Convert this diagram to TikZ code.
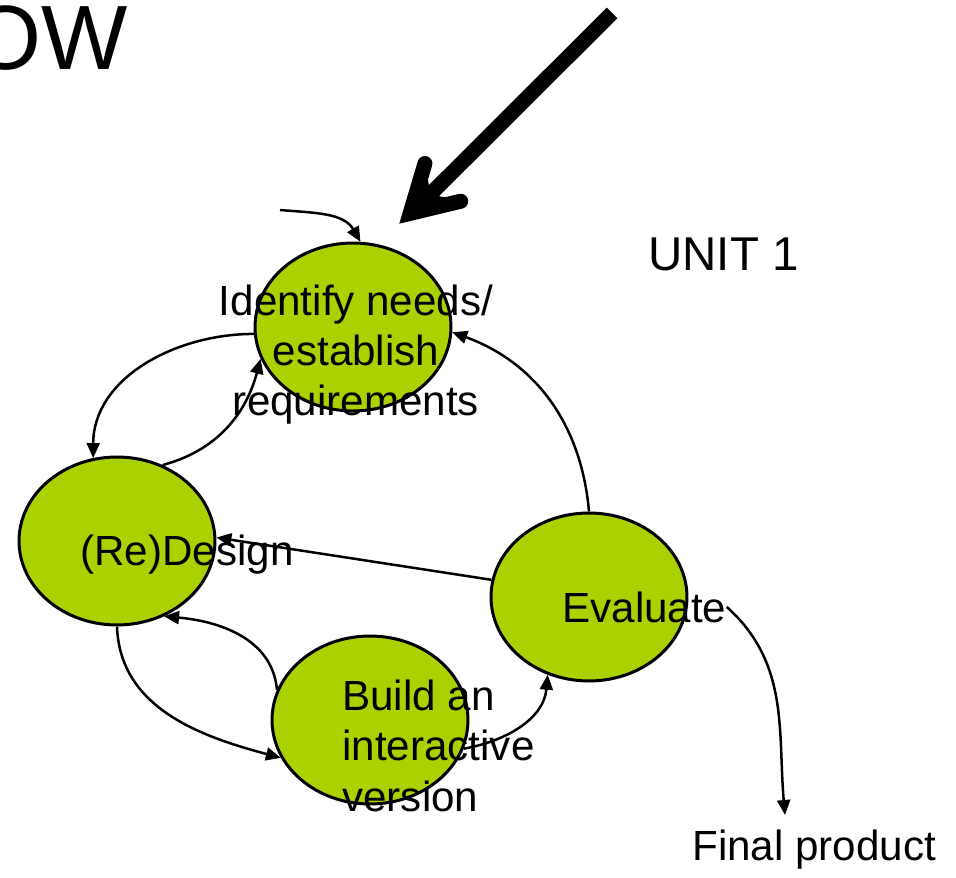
\documentclass[tikz,border=0pt]{standalone}
\usepackage{fontspec}
\setmainfont{Liberation Sans}
\usepackage{xcolor}
\usepackage{tikz}
\usetikzlibrary{shapes,arrows,positioning,calc,arrows.meta}
\definecolor{stagegreen}{RGB}{170,210,0}

\begin{document}
\begin{tikzpicture}[x=0.02cm, y=0.02cm,
    stage/.style={ellipse, draw, line width=0.06cm, fill=stagegreen,
        minimum width=3.92cm, minimum height=3.36cm, inner sep=0pt},
    lbl/.style={inner sep=0pt, font=\fontsize{24}{28.5}\selectfont},
    flow/.style={line width=0.05cm, -{Triangle[length=0.3cm, width=0.26cm]}}]
    \useasboundingbox (0,0) rectangle (956,877);
    \clip (0,0) rectangle (956,877);

    % Title (cut off)
    \node[inner sep=0pt, anchor=base east, font=\fontsize{52}{60}\selectfont] (title) at (128,807) {OW};

    % Stages
    \node[stage] (needs) at (353,550) {};
    \node[stage] (design) at (117,336) {};
    \node[stage] (build) at (370,157) {};
    \node[stage] (evaluate) at (589,280) {};

    % Free ends
    \coordinate (entry) at (280,667);
    \coordinate (finaltip) at (785,62);
    \coordinate (pointtail) at (612,864);
    \coordinate (pointtip) at (400,654);

    % Big pointer
    \coordinate (pointvertex) at ($(pointtip)+(43.5:14)$);
    \coordinate (pointnotch) at ($(pointtip)+(43.5:42)$);
    \coordinate (barbleft) at ($(pointvertex)+(73.5:52)$);
    \coordinate (barbright) at ($(pointvertex)+(13.5:52)$);
    \draw[line width=0.3cm] (pointtail) -- (pointnotch);
    \fill (pointvertex) -- (barbleft) -- (pointnotch) -- (barbright) -- cycle;
    \draw[line width=0.3cm, line cap=round, line join=miter] (barbleft) -- (pointvertex) -- (barbright);

    % Labels
    \node[lbl, align=center] (needslbl) at (356,522) {Identify needs/\\establish\\requirements};
    \node[lbl, anchor=base west] (designlbl) at (80,312) {(Re)Design};
    \node[lbl, align=left, anchor=north west] (buildlbl) at (342,197) {Build an\\interactive\\version};
    \node[lbl, anchor=base west] (evlbl) at (562,255) {Evaluate};
    \node[lbl, anchor=base west, font=\fontsize{27}{32}\selectfont] (unit) at (648,607) {UNIT 1};
    \node[lbl, anchor=base west] (final) at (692,17) {Final product};

    % Cycle
    \draw[flow] (entry) to[out=-5, in=120] (needs.85);
    \draw[flow] (needs.184) to[out=180, in=90] (design.106);
    \draw[flow] (design.59) to[out=15, in=-105] (needs.199);
    \draw[flow] (evaluate.90) to[out=95, in=-20] (needs.-3);
    \draw[flow] (evaluate.170) -- (design.2);
    \draw[flow] (build.162) to[out=95, in=-5] (design.-58);
    \draw[flow] (design.-90) to[out=-88, in=165] (build.203);
    \draw[flow] (build.-17) to[out=10, in=-95] (evaluate.-118);
    \draw[flow] (evlbl.east) to[out=-42, in=95] (finaltip);
\end{tikzpicture}
\end{document}
